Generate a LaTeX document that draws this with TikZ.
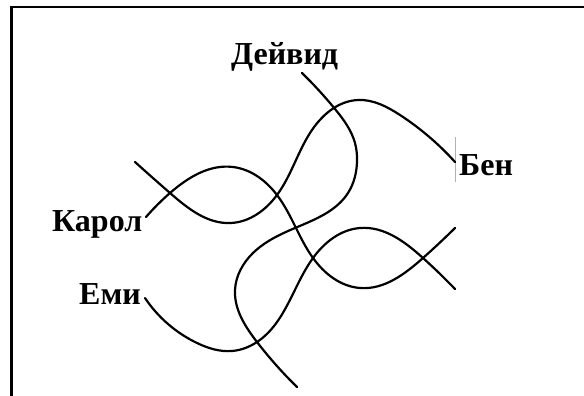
\documentclass[tikz,border=0pt]{standalone}
\usepackage{fontspec}
\setmainfont{Liberation Serif}
\usetikzlibrary{hobby}
\begin{document}
\begin{tikzpicture}[x=1pt,y=-1pt,
  lbl/.style={font=\bfseries\fontsize{32}{38}\selectfont, inner sep=0pt, anchor=base west},
  wire/.style={line width=2.2pt, line cap=round, line join=round, use Hobby shortcut},
  frame/.style={line width=2.2pt}]
\useasboundingbox (0,0) rectangle (584,396);
\draw[frame] (11.5,396) -- (11.5,6.7) -- (584,6.7);
% labels
\node[lbl] (dav) at (231,65) {Дейвид};
\node[lbl] (ben) at (459,175) {Бен};
\node[lbl] (kar) at (52,231) {Карол};
\node[lbl] (emi) at (79,304) {Еми};
\draw[gray!60, line width=0.6pt] (455,137) -- (455,182);
% curves
\draw[wire] (135,162) .. (170,193) .. (231,223) .. (277,195) .. (310,133) .. (358,100) .. (400,115) .. (455,162);
\draw[wire] (146,217) .. (170,193) .. (233,167) .. (277,195) .. (313,258) .. (360,288) .. (423,258) .. (455,228);
\draw[wire] (145,298) .. (197,343) .. (232,351) .. (257,342) .. (313,258) .. (360,228) .. (423,258) .. (455,289);
\draw[wire] (302,73) .. (335,109) .. (355,143) .. (357,162) .. (348,193) .. (295,228) .. (253,253) .. (235,290) .. (257,342) .. (297,387);
\end{tikzpicture}
\end{document}
